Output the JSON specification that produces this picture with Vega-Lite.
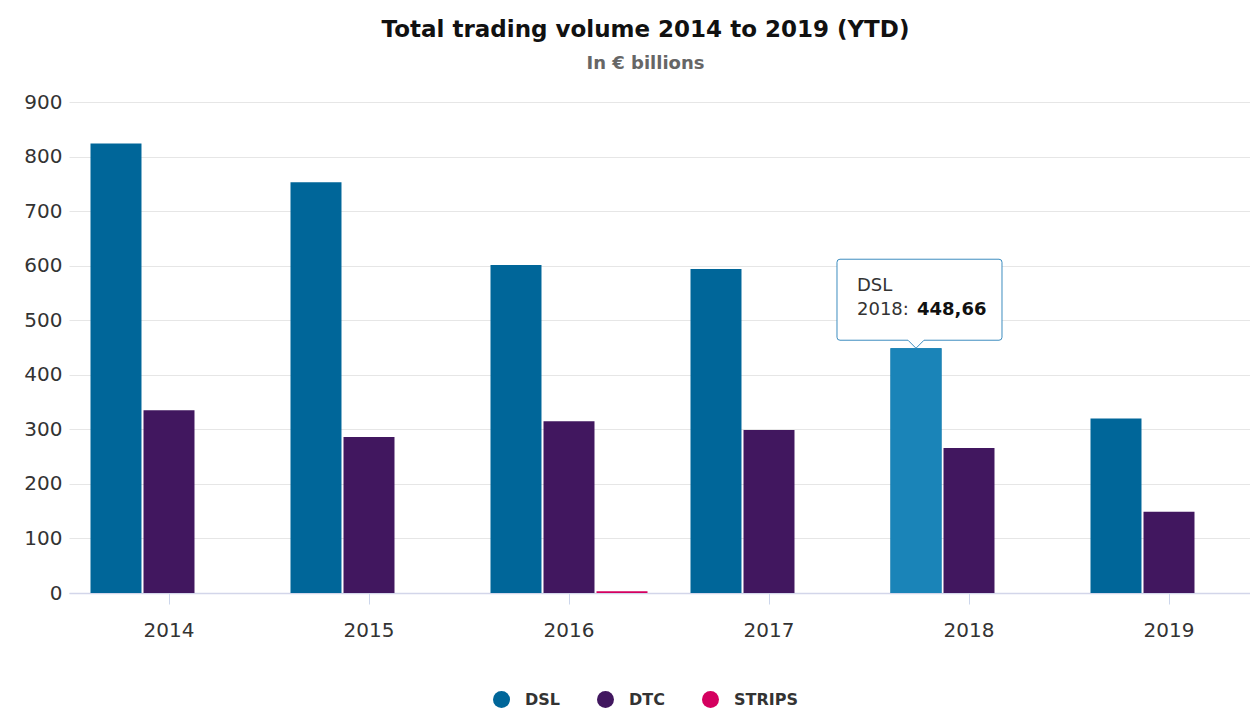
{
  "$schema": "https://vega.github.io/schema/vega-lite/v6.json",
  "width": 1181,
  "height": 491,
  "autosize": {"type": "none"},
  "padding": {"left": 69, "top": 102, "right": 0, "bottom": 116},
  "background": "#ffffff",
  "title": {
    "text": "Total trading volume 2014 to 2019 (YTD)",
    "subtitle": "In € billions",
    "anchor": "middle",
    "frame": "group",
    "dx": -14,
    "offset": 19,
    "font": "DejaVu Sans",
    "fontSize": 23,
    "fontWeight": "bold",
    "color": "#111111",
    "subtitleFont": "DejaVu Sans",
    "subtitleFontSize": 18,
    "subtitleFontWeight": "bold",
    "subtitleColor": "#666666",
    "subtitlePadding": 13
  },
  "config": {
    "view": {"stroke": null},
    "locale": {"number": {"decimal": ",", "thousands": ".", "grouping": [3], "currency": ["", " €"]}},
    "axis": {"labelFont": "DejaVu Sans", "labelFontSize": 20, "labelColor": "#333333"}
  },
  "datasets": {
    "volumes": [
      {"year": "2014", "series": "DSL", "value": 824},
      {"year": "2014", "series": "DTC", "value": 335},
      {"year": "2014", "series": "STRIPS", "value": 0},
      {"year": "2015", "series": "DSL", "value": 753},
      {"year": "2015", "series": "DTC", "value": 286},
      {"year": "2015", "series": "STRIPS", "value": 0},
      {"year": "2016", "series": "DSL", "value": 601},
      {"year": "2016", "series": "DTC", "value": 315},
      {"year": "2016", "series": "STRIPS", "value": 3},
      {"year": "2017", "series": "DSL", "value": 594},
      {"year": "2017", "series": "DTC", "value": 299},
      {"year": "2017", "series": "STRIPS", "value": 0},
      {"year": "2018", "series": "DSL", "value": 448.66},
      {"year": "2018", "series": "DTC", "value": 266},
      {"year": "2018", "series": "STRIPS", "value": 0},
      {"year": "2019", "series": "DSL", "value": 320},
      {"year": "2019", "series": "DTC", "value": 149},
      {"year": "2019", "series": "STRIPS", "value": 0}
    ],
    "hover": [
      {"year": "2018", "series": "DSL", "value": 448.66, "yearLabel": "2018:"}
    ]
  },
  "encoding": {
    "x": {
      "field": "year",
      "type": "nominal",
      "scale": {"range": [0, 1200], "paddingInner": 0.215, "paddingOuter": 0.1075},
      "axis": {
        "title": null,
        "labelAngle": 0,
        "domainColor": "#d3d6ea",
        "domainWidth": 1.5,
        "tickColor": "#ccd6eb",
        "tickSize": 11,
        "labelPadding": 16,
        "grid": false
      }
    },
    "xOffset": {
      "field": "series",
      "type": "nominal",
      "scale": {"domain": ["DSL", "DTC", "STRIPS"], "paddingInner": 0.038, "paddingOuter": 0}
    },
    "y": {
      "field": "value",
      "type": "quantitative",
      "scale": {"domain": [0, 900], "nice": false},
      "axis": {
        "title": null,
        "values": [0, 100, 200, 300, 400, 500, 600, 700, 800, 900],
        "domain": false,
        "ticks": false,
        "tickSize": 0,
        "labelPadding": 7,
        "gridColor": "#e6e6e6",
        "format": "d"
      }
    }
  },
  "layer": [
    {
      "data": {"name": "volumes"},
      "mark": {"type": "bar"},
      "encoding": {
        "color": {
          "field": "series",
          "type": "nominal",
          "scale": {"domain": ["DSL", "DTC", "STRIPS"], "range": ["#006699", "#41175f", "#d4005f"]},
          "legend": {
            "title": null,
            "orient": "none",
            "direction": "horizontal",
            "legendX": 424,
            "legendY": 589,
            "symbolType": "circle",
            "symbolSize": 289,
            "symbolStrokeWidth": 0,
            "symbolOpacity": 1,
            "labelFont": "DejaVu Sans",
            "labelFontSize": 16,
            "labelFontWeight": "bold",
            "labelColor": "#333333",
            "labelOffset": 15,
            "columnPadding": 37,
            "padding": 0
          }
        }
      }
    },
    {
      "data": {"name": "hover"},
      "mark": {"type": "bar", "fill": "#1a84b8"}
    },
    {
      "data": {"name": "hover"},
      "mark": {
        "type": "point",
        "shape": "M -76 -89 L 83 -89 Q 86 -89 86 -86 L 86 -11 Q 86 -8 83 -8 L 8 -8 L 0 0 L -8 -8 L -76 -8 Q -79 -8 -79 -11 L -79 -86 Q -79 -89 -76 -89 Z",
        "size": 4,
        "filled": true,
        "fill": "#ffffff",
        "stroke": "#3d8dbf",
        "strokeWidth": 1,
        "opacity": 1
      }
    },
    {
      "data": {"name": "hover"},
      "mark": {"type": "text", "align": "left", "baseline": "alphabetic", "dx": -59, "dy": -57, "font": "DejaVu Sans", "fontSize": 18, "color": "#333333"},
      "encoding": {"text": {"field": "series"}}
    },
    {
      "data": {"name": "hover"},
      "mark": {"type": "text", "align": "left", "baseline": "alphabetic", "dx": -59, "dy": -33, "font": "DejaVu Sans", "fontSize": 18, "color": "#333333"},
      "encoding": {"text": {"field": "yearLabel"}}
    },
    {
      "data": {"name": "hover"},
      "mark": {"type": "text", "align": "left", "baseline": "alphabetic", "dx": 1, "dy": -33, "font": "DejaVu Sans", "fontSize": 18, "fontWeight": "bold", "color": "#111111"},
      "encoding": {"text": {"field": "value", "format": ".2f"}}
    }
  ]
}
